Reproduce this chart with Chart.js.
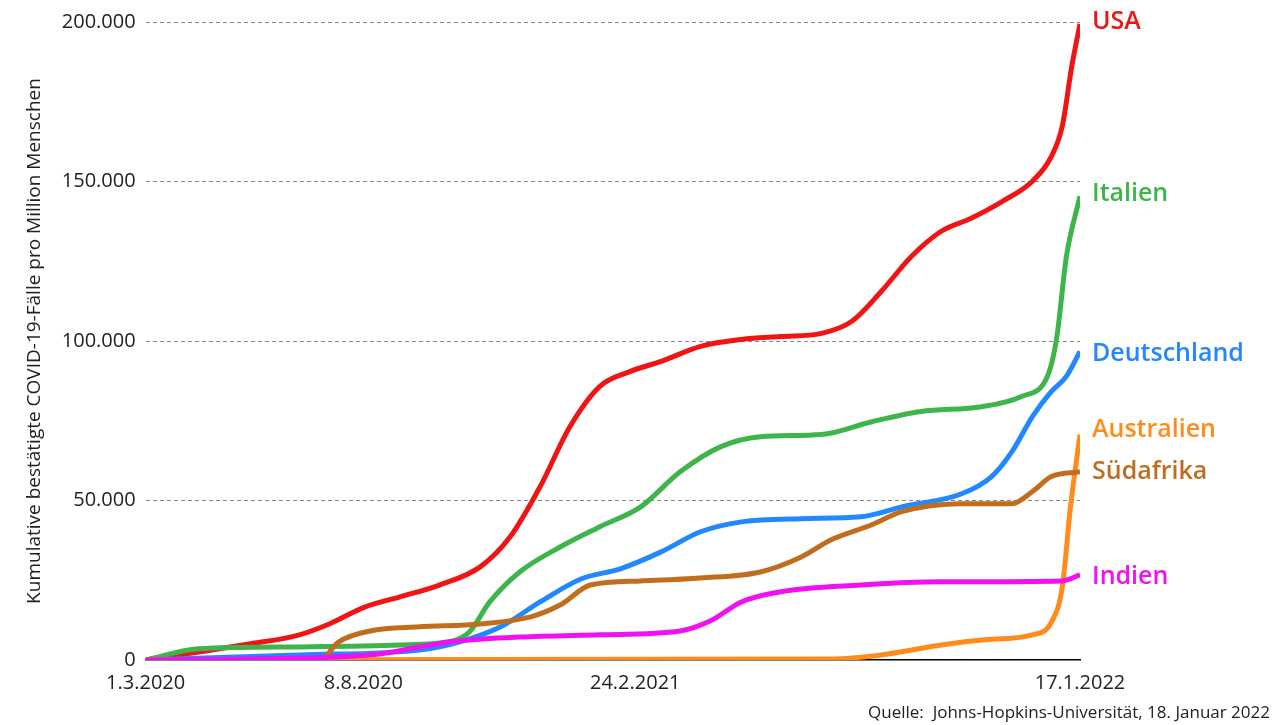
<!DOCTYPE html>
<html><head><meta charset="utf-8">
<script src="https://cdn.jsdelivr.net/npm/chart.js@4"></script>
<style>body{margin:0;background:#fff}#w{width:1280px;height:725px;position:relative}</style>
</head><body><div id="w"><canvas id="c"></canvas></div>
<script>
// x = days since 1.3.2020
const tickDays = [0, 160, 360, 687];
const tickLabels = ["1.3.2020", "8.8.2020", "24.2.2021", "17.1.2022"];
const usaDays = [0,39,76,113,135,161,187,216,246,268,290,312,334,356,379,408,438,467,497,519,541,563,585,607,630,652,666,674,681,687];
const usaVals = [0,2500,5000,7900,11300,16600,19800,23500,29200,38600,54300,73200,85800,90400,93600,98300,100500,101400,102400,106100,115600,126500,134400,138500,143800,150100,157900,167400,186200,199400];
const itaDays = [0,39,113,187,223,238,253,275,305,334,364,393,423,452,497,534,570,615,644,663,670,677,687];
const itaVals = [0,3500,4100,4700,5700,8800,18200,27600,35500,41800,48000,59000,66900,70000,70700,74700,77900,79400,82600,88900,101400,126500,145400];
const gerDays = [0,113,201,231,261,290,320,349,379,408,438,482,526,556,600,622,637,652,666,677,687];
const gerVals = [0,1600,3100,5700,10400,18200,25400,28600,33900,40200,43300,44300,44900,48000,52100,57500,65300,76300,84200,88900,96700];
const ausDays = [0,504,541,585,615,652,666,674,680,687];
const ausVals = [0,300,1600,4700,6300,7900,11900,22900,48000,70700];
const rsaDays = [0,128,142,165,201,246,283,305,327,364,408,452,482,504,534,556,600,637,652,666,687];
const rsaVals = [0,0,5700,9100,10400,11300,13500,17300,23500,24800,25700,27600,32300,37700,42400,46500,49000,49000,52800,57500,59000];
const indDays = [0,113,172,201,231,275,334,393,415,438,467,526,585,674,687];
const indVals = [0,600,1900,4100,6000,7200,7900,9100,12200,18200,21400,23500,24500,24800,26700];
const names = ["USA","Italien","Deutschland","Australien","Südafrika","Indien"];
const colors = ["#f01414","#3db54a","#2288ff","#ff8c1a","#c06e1e","#f010f0"];
const labelVals = [200000, 146000, 96000, 72000, 59000, 26000];

const series = [[usaDays,usaVals],[itaDays,itaVals],[gerDays,gerVals],[ausDays,ausVals],[rsaDays,rsaVals],[indDays,indVals]];
const order = [5,4,3,2,1,0];
const datasets = order.map(i => ({
  label: names[i], borderColor: colors[i], borderWidth: 5, pointRadius: 0,
  cubicInterpolationMode: 'monotone', fill: false,
  data: series[i][0].map((d,k)=>({x:d,y:series[i][1][k]}))
}));
const fmt = v => v===0 ? "0" : v.toLocaleString('de-DE');
const endLabels = {
  id:'endLabels',
  afterDatasetsDraw(ch){
    const c=ch.ctx, xs=ch.scales.x, ys=ch.scales.y;
    c.save(); c.font='600 25px "Open Sans", sans-serif'; c.textBaseline='middle'; c.textAlign='left';
    names.forEach((n,i)=>{ c.fillStyle=colors[i]; c.fillText(n, xs.right+12, ys.getPixelForValue(labelVals[i])); });
    c.font='17px "Open Sans", sans-serif'; c.fillStyle='#222'; c.textAlign='right';
    c.fillText('Quelle:  Johns-Hopkins-Universität, 18. Januar 2022', 1270, 713);
    c.restore();
  }
};
new Chart(document.getElementById('c'), {
  type:'line', data:{datasets},
  options:{responsive:true, maintainAspectRatio:false, animation:false,
    layout:{padding:{left:19,right:200,top:-2,bottom:27}},
    plugins:{legend:{display:false},tooltip:{enabled:false}},
    scales:{
      x:{type:'linear',min:0,max:687,
        afterBuildTicks(ax){ax.ticks=tickDays.map(v=>({value:v}));},
        ticks:{autoSkip:false,maxRotation:0,color:'#222',font:{size:20,family:'"Open Sans", sans-serif'},
          callback:(v)=>tickLabels[tickDays.indexOf(v)]},
        grid:{display:false,drawTicks:true,tickLength:8,tickColor:'#000'},
        border:{color:'#000',width:1.5}},
      y:{min:0,max:200000,
        afterBuildTicks(ax){ax.ticks=[0,50000,100000,150000,200000].map(v=>({value:v}));},
        ticks:{color:'#222',font:{size:20,family:'"Open Sans", sans-serif'},callback:v=>fmt(v),padding:10},
        grid:{color:c=>c.tick&&c.tick.value===0?'rgba(0,0,0,0)':'#888',lineWidth:1,drawTicks:false},
        border:{display:false,dash:[4,3]},
        title:{display:true,text:'Kumulative bestätigte COVID-19-Fälle pro Million Menschen',color:'#222',font:{size:19,family:'"Open Sans", sans-serif'},padding:{bottom:6}}}
    }
  },
  plugins:[endLabels]
});
</script></body></html>
